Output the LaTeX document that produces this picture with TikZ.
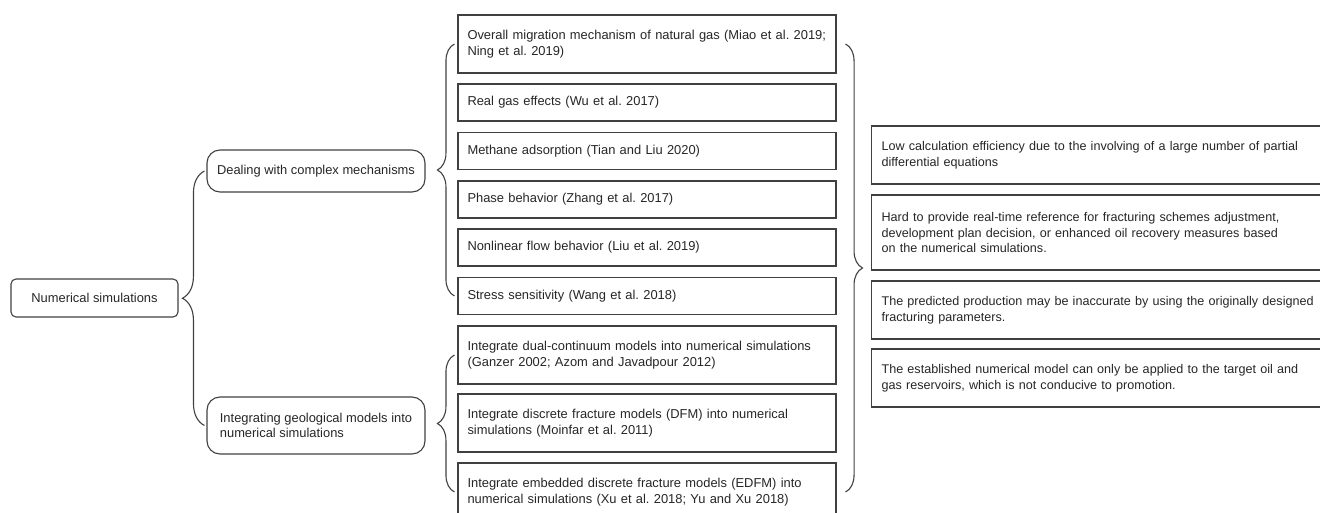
\documentclass[tikz,border=0pt]{standalone}
\usepackage{fontspec}
\setmainfont{Liberation Sans}
\usetikzlibrary{decorations.pathreplacing}
\frenchspacing

\tikzset{
  every node/.style={font=\fontsize{12.9}{15.5}\selectfont, text=black!85},
  rootbox/.style={draw=black!75, line width=1.1pt, rounded corners=5pt, minimum width=167pt, minimum height=38pt},
  groupbox/.style={draw=black!75, line width=1.1pt, rounded corners=13pt, minimum width=218pt, align=left},
  itembox/.style={draw=black!75, line width=1.1pt, text width=359pt, inner xsep=9.5pt, align=left, minimum height=37pt},
  notebox/.style={draw=black!75, line width=1.1pt, font=\fontsize{12.6}{15.5}\selectfont, text width=450pt, inner xsep=10pt, align=left, minimum height=58pt, anchor=west},
  brc/.style={draw=black!75, line width=1.1pt, decorate, decoration={brace, amplitude=#1}}
}

\begin{document}
\begin{tikzpicture}[x=1pt, y=-1pt]
  \useasboundingbox (0,0) rectangle (1320,513);

  % root and the two branches
  \node[rootbox](num) at (94.5, 298) {Numerical simulations};
  \node[groupbox, minimum height=42pt](deal) at (316, 171) {Dealing with complex mechanisms};
  \node[groupbox, minimum height=57pt](integ) at (316, 425.5) {Integrating geological models into\\numerical simulations};

  % mechanisms and models
  \node[itembox, minimum height=58pt](m1) at (647, 44) {Overall migration mechanism of natural gas (Miao et al. 2019;\\Ning et al. 2019)};
  \node[itembox](m2) at (647, 102.5) {Real gas effects (Wu et al. 2017)};
  \node[itembox](m3) at (647, 151) {Methane adsorption (Tian and Liu 2020)};
  \node[itembox](m4) at (647, 199.5) {Phase behavior (Zhang et al. 2017)};
  \node[itembox](m5) at (647, 247.5) {Nonlinear flow behavior (Liu et al. 2019)};
  \node[itembox](m6) at (647, 296) {Stress sensitivity (Wang et al. 2018)};
  \node[itembox, minimum height=58pt](m7) at (647, 355) {Integrate dual-continuum models into numerical simulations\\(Ganzer 2002; Azom and Javadpour 2012)};
  \node[itembox, minimum height=58pt](m8) at (647, 423) {Integrate discrete fracture models (DFM) into numerical\\simulations (Moinfar et al. 2011)};
  \node[itembox, minimum height=58pt](m9) at (647, 492) {Integrate embedded discrete fracture models (EDFM) into\\numerical simulations (Xu et al. 2018; Yu and Xu 2018)};

  % shortcomings
  \node[notebox](r1) at (871, 155) {Low calculation efficiency due to the involving of a large number of partial\\differential equations};
  \node[notebox, minimum height=75pt](r2) at (871, 232.5) {Hard to provide real-time reference for fracturing schemes adjustment,\\development plan decision, or enhanced oil recovery measures based\\on the numerical simulations.};
  \node[notebox](r3) at (871, 310) {The predicted production may be inaccurate by using the originally designed\\fracturing parameters.};
  \node[notebox](r4) at (871, 378) {The established numerical model can only be applied to the target oil and\\gas reservoirs, which is not conducive to promotion.};

  % braces
  \draw[brc=22pt] ([xshift=-2pt]integ.west) -- ([xshift=-2pt]deal.west);
  \draw[brc=17pt] ([xshift=-3pt]m6.west) -- ([xshift=-3pt]m1.west);
  \draw[brc=17pt] ([xshift=-3pt]m9.west) -- ([xshift=-3pt]m7.west);
  \draw[brc=17pt] ([xshift=9pt]m1.east) -- ([xshift=9pt]m9.east);
\end{tikzpicture}
\end{document}
